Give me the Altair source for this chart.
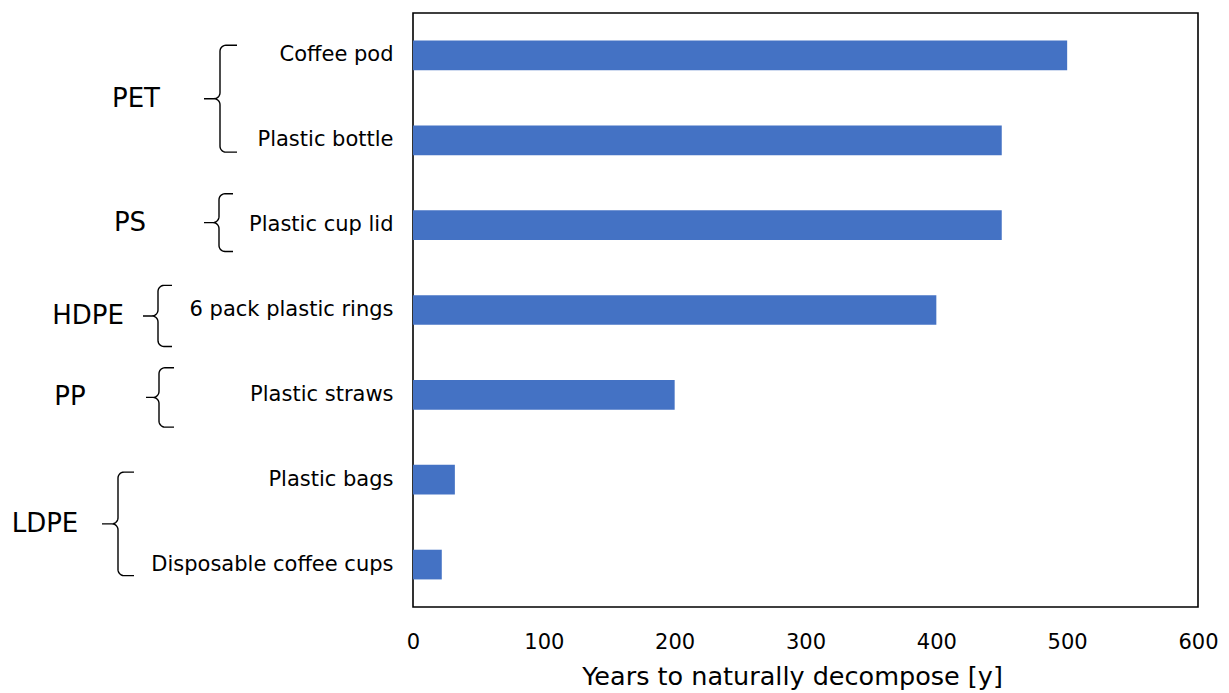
import altair as alt
import numpy as np
import pandas as pd

# Items and their decomposition times (years)
items = [
    "Coffee pod",
    "Plastic bottle",
    "Plastic cup lid",
    "6 pack plastic rings",
    "Plastic straws",
    "Plastic bags",
    "Disposable coffee cups",
]
years = [500, 450, 450, 400, 200, 32, 22]

# Polymer groups and the items each one covers
groups = ["PET", "PS", "HDPE", "PP", "LDPE"]
group_members = [
    ["Coffee pod", "Plastic bottle"],
    ["Plastic cup lid"],
    ["6 pack plastic rings"],
    ["Plastic straws"],
    ["Plastic bags", "Disposable coffee cups"],
]

x_ticks = [0, 100, 200, 300, 400, 500, 600]

# ---- layout -------------------------------------------------------------
W, H = 785, 594
PAD = {"left": 413, "top": 13, "right": 31, "bottom": 86}
STEP = H / len(items)          # band step in pixels
R = 6                          # brace corner radius in pixels
FONT = "DejaVu Sans"

# Brace geometry per group, in pixels relative to the plot's left edge:
# tip, spine, hook end, label centre; plus a vertical nudge in band units.
brace_layout = {
    "PET":  dict(tip=-209, spine=-193, end=-176, label=-277, pad=0.13, shift=0.01),
    "PS":   dict(tip=-209, spine=-194, end=-180, label=-283, pad=0.34, shift=-0.03),
    "HDPE": dict(tip=-270, spine=-255, end=-241, label=-325, pad=0.36, shift=0.07),
    "PP":   dict(tip=-267, spine=-254, end=-239, label=-343, pad=0.35, shift=0.03),
    "LDPE": dict(tip=-311, spine=-295, end=-279, label=-368, pad=0.11, shift=0.02),
}

bars_df = pd.DataFrame({"item": items, "years": years})


def brace_points(top, bottom, mid, xt, xs, xe):
    """Points of a left-pointing curly brace (x in px, y in band index)."""
    ry = R / STEP
    pts = [(xe, top)]
    for a in np.radians(np.linspace(90, 180, 8)):
        pts.append((xs + R + R * np.cos(a), top + ry - ry * np.sin(a)))
    for a in np.radians(np.linspace(0, 90, 8)):
        pts.append((xs - R + R * np.cos(a), mid - ry + ry * np.sin(a)))
    pts.append((xt, mid))
    for a in np.radians(np.linspace(-90, 0, 8)):
        pts.append((xs - R + R * np.cos(a), mid + ry + ry * np.sin(a)))
    for a in np.radians(np.linspace(180, 90, 8)):
        pts.append((xs + R + R * np.cos(a), bottom - ry + ry * np.sin(a)))
    pts.append((xe, bottom))
    return pts


brace_rows, label_rows = [], []
for g, members in zip(groups, group_members):
    lay = brace_layout[g]
    idx = [items.index(m) for m in members]
    top = min(idx) - lay["pad"] + lay["shift"]
    bottom = max(idx) + lay["pad"] + lay["shift"]
    mid = (top + bottom) / 2
    for k, (px, py) in enumerate(
        brace_points(top, bottom, mid, lay["tip"], lay["spine"], lay["end"])
    ):
        brace_rows.append({"group": g, "ord": k, "bx": px, "by": py})
    label_rows.append({"group": g, "lx": lay["label"], "ly": mid})

brace_df = pd.DataFrame(brace_rows)
label_df = pd.DataFrame(label_rows)

px_scale = alt.Scale(domain=[0, W], nice=False, zero=False)
idx_scale = alt.Scale(domain=[-0.5, len(items) - 0.5], reverse=True, nice=False, zero=False)

bars = alt.Chart(bars_df).mark_bar(color="#4472C4").encode(
    x=alt.X(
        "years:Q",
        scale=alt.Scale(domain=[0, 600], nice=False),
        axis=alt.Axis(
            values=x_ticks,
            title="Years to naturally decompose [y]",
            grid=False,
            ticks=False,
            domain=False,
            labelFlush=False,
            labelFontSize=21,
            labelPadding=24,
            labelColor="black",
            titleFontSize=25.5,
            titleFontWeight="normal",
            titleColor="black",
            titlePadding=12,
            titleX=379,
            titleAlign="center",
        ),
    ),
    y=alt.Y(
        "item:N",
        sort=items,
        scale=alt.Scale(paddingInner=0.65, paddingOuter=0.325),
        axis=alt.Axis(
            title=None,
            ticks=False,
            domain=False,
            labelFontSize=21,
            labelPadding=20,
            labelColor="black",
            labelLimit=400,
        ),
    ),
)

braces = alt.Chart(brace_df).mark_line(color="black", strokeWidth=1.4).encode(
    x=alt.X("bx:Q", scale=px_scale, axis=None),
    y=alt.Y("by:Q", scale=idx_scale, axis=None),
    detail="group:N",
    order="ord:Q",
)

group_labels = alt.Chart(label_df).mark_text(
    fontSize=26, align="center", baseline="middle", color="black", font=FONT
).encode(
    x=alt.X("lx:Q", scale=px_scale, axis=None),
    y=alt.Y("ly:Q", scale=idx_scale, axis=None),
    text="group:N",
)

chart = (
    alt.layer(bars, braces, group_labels)
    .resolve_scale(x="independent", y="independent")
    .properties(
        width=W,
        height=H,
        padding=PAD,
        autosize=alt.AutoSizeParams(type="none"),
        background="white",
    )
    .configure(font=FONT)
    .configure_view(stroke="black", strokeWidth=1.6)
)

chart.save("out.html", embed_options={"renderer": "svg", "actions": False})
